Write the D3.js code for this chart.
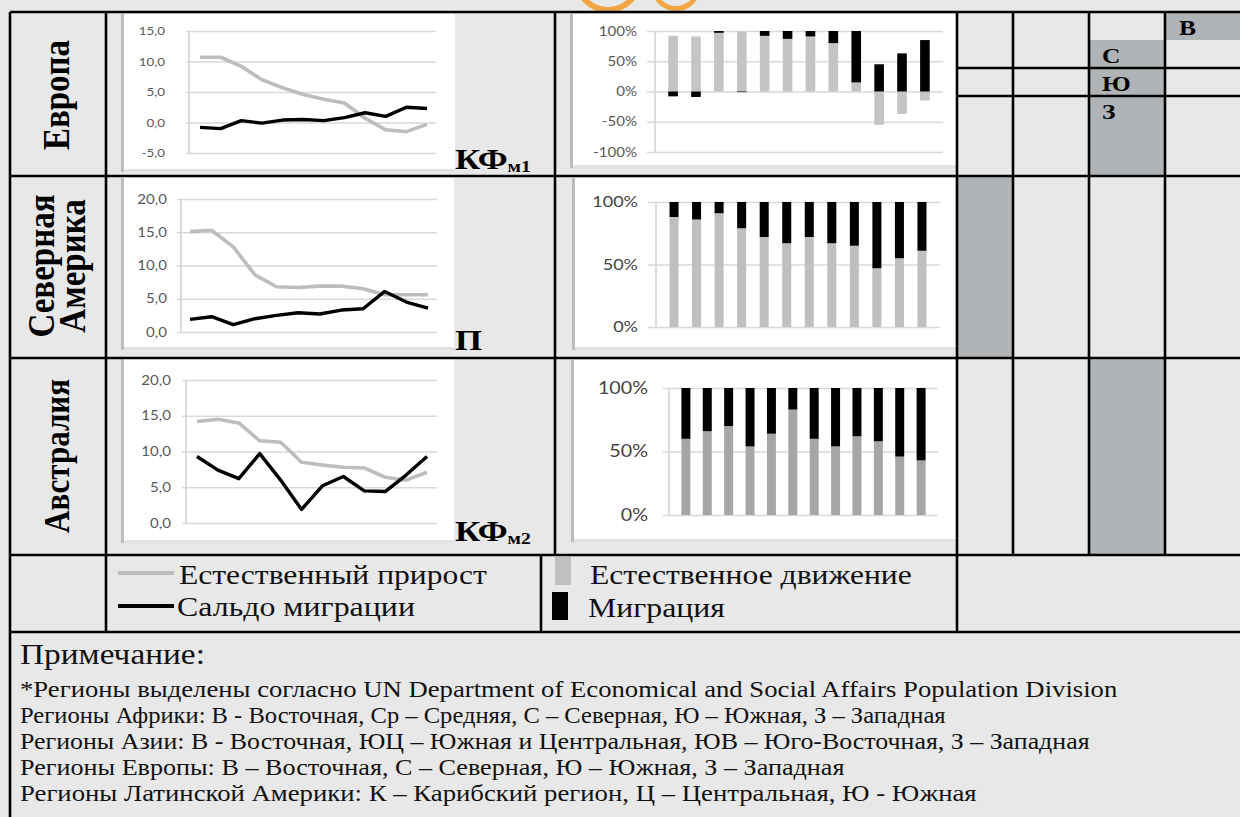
<!DOCTYPE html>
<html>
<head>
<meta charset="utf-8">
<script src="https://cdn.jsdelivr.net/npm/d3@7"></script>
<style>
html, body { margin: 0; padding: 0; background: #e8e8e8; }
svg { display: block; }
</style>
</head>
<body>
<svg id="chart" width="1240" height="817"></svg>
<script>
// five-year periods on the x axis of every small chart
var periods = ['1950-55', '1955-60', '1960-65', '1965-70', '1970-75', '1975-80',
               '1980-85', '1985-90', '1990-95', '1995-00', '2000-05', '2005-10'];

// natural increase / net migration, per 1000
var europeNatural   = [10.7, 10.7, 9.2, 7.0, 5.7, 4.6, 3.8, 3.2, 0.7, -1.2, -1.5, -0.3];
var europeMigration = [-0.8, -1.0, 0.3, -0.1, 0.4, 0.5, 0.3, 0.8, 1.6, 1.0, 2.5, 2.3];
var namNatural      = [15.1, 15.3, 12.8, 8.6, 6.8, 6.7, 6.9, 6.9, 6.5, 5.6, 5.6, 5.6];
var namMigration    = [1.9, 2.3, 1.1, 2.0, 2.5, 2.9, 2.7, 3.3, 3.5, 6.1, 4.5, 3.6];
var ausNatural      = [14.2, 14.5, 14.0, 11.5, 11.3, 8.5, 8.1, 7.8, 7.7, 6.4, 6.0, 7.1];
var ausMigration    = [9.3, 7.4, 6.2, 9.7, 6.0, 1.9, 5.2, 6.5, 4.5, 4.4, 6.7, 9.3];

// shares of growth, %
var europeNatShare = [92, 91, 97, 99, 92, 87, 91, 80, 15, -55, -37, -15];
var europeMigShare = [-8, -9, 3, -1, 8, 13, 9, 20, 85, 45, 63, 85];
var namNatShare    = [88, 86, 91, 79, 72, 67, 72, 67, 65, 47, 55, 61];
var namMigShare    = [12, 14, 9, 21, 28, 33, 28, 33, 35, 53, 45, 39];
var ausNatShare    = [60, 66, 70, 54, 64, 83, 60, 54, 62, 58, 46, 43];
var ausMigShare    = [40, 34, 30, 46, 36, 17, 40, 46, 38, 42, 54, 57];

// tick labels
var europeLineTicks = [-5, 0, 5, 10, 15];
var otherLineTicks  = [0, 5, 10, 15, 20];
var europeBarTicks  = [-100, -50, 0, 50, 100];
var otherBarTicks   = [0, 50, 100];

// texts
var regionNames = ['Европа', 'Северная|Америка', 'Австралия'];
var subRegions  = ['В', 'С', 'Ю', 'З'];
var lineLegend  = ['Естественный прирост', 'Сальдо миграции'];
var barLegend   = ['Естественное движение', 'Миграция'];
var notesTitle  = 'Примечание:';
var notes = [
    '*Регионы выделены согласно UN Department of Economical and Social Affairs Population Division',
    'Регионы Африки: В - Восточная, Ср – Средняя, С – Северная, Ю – Южная, З – Западная',
    'Регионы Азии: В - Восточная, ЮЦ – Южная и Центральная, ЮВ – Юго-Восточная, З – Западная',
    'Регионы Европы: В – Восточная, С – Северная, Ю – Южная, З – Западная',
    'Регионы Латинской Америки: К – Карибский регион, Ц – Центральная, Ю - Южная'
];

var serif = '"Liberation Serif", "DejaVu Serif", "Times New Roman", serif',
    sans = 'Lato, "Open Sans", sans-serif',
    cellGray = '#b1b4b6',
    lineGray = '#bdbdbd',
    sx = 1.16;   // the page is a little wider than tall

var svg = d3.select('#chart');

svg.append('rect')
    .attr('width', 1240).attr('height', 817)
    .attr('fill', '#e8e8e8');

// orange logo scrap at the very top
svg.append('circle')
    .attr('cx', 608).attr('cy', -21).attr('r', 31)
    .attr('fill', 'none').attr('stroke', '#f2a543').attr('stroke-width', 6);
svg.append('path')
    .attr('d', d3.arc()({innerRadius: 20, outerRadius: 25, startAngle: Math.PI * 0.45, endAngle: Math.PI * 1.45}))
    .attr('transform', 'translate(676,-14)')
    .attr('fill', '#f2a543');

// gray cells of the right-hand table
[[1165, 12, 75, 28], [1089, 40, 76, 136], [957, 176, 56, 182], [1089, 358, 76, 197]].forEach(function(c) {
    svg.append('rect')
        .attr('x', c[0]).attr('y', c[1]).attr('width', c[2]).attr('height', c[3])
        .attr('fill', cellGray);
});

function fmtComma(d) {
    return d3.format('.1f')(d).replace('.', ',').replace('−', '-');
}
function fmtPct(d) {
    return d + '%';
}

function chartBox(b) {
    svg.append('rect')
        .attr('x', b.x).attr('y', b.y).attr('width', b.w).attr('height', b.h)
        .attr('fill', '#fff');
    svg.append('rect')
        .attr('x', b.x).attr('y', b.y + b.h - 3).attr('width', b.w).attr('height', 3)
        .attr('fill', '#e2e2e2');
    svg.append('rect')
        .attr('x', b.x).attr('y', b.y).attr('width', 3).attr('height', b.h)
        .attr('fill', '#bcbcbc');
}

function gridAxis(cfg, y, ticks, fmt) {
    var pad = cfg.gridStart - cfg.labelRight;
    var g = svg.append('g')
        .attr('transform', 'translate(' + cfg.gridStart + ',0)')
        .call(d3.axisLeft(y)
            .tickValues(ticks)
            .tickSize(-(cfg.gridEnd - cfg.gridStart))
            .tickPadding(pad)
            .tickFormat(fmt));
    g.select('.domain').remove();
    g.selectAll('.tick line')
        .attr('stroke', '#d9d9d9').attr('stroke-width', 1.6);
    g.selectAll('.tick text')
        .attr('x', -pad / sx)
        .attr('transform', 'scale(' + sx + ',1)')
        .attr('fill', cfg.labelColor || '#595959')
        .style('font-family', sans)
        .style('font-size', cfg.fontSize + 'px');

    svg.append('line')
        .attr('x1', cfg.axisX).attr('x2', cfg.axisX)
        .attr('y1', y(ticks[ticks.length - 1])).attr('y2', y(ticks[0]))
        .attr('stroke', '#d0d0d0').attr('stroke-width', 1.5);
}

function lineChart(cfg) {
    chartBox(cfg.box);

    var x = d3.scaleLinear().domain([0, periods.length - 1]).range(cfg.xRange),
        y = d3.scaleLinear().domain(cfg.yDomain).range(cfg.yRange);

    gridAxis(cfg, y, cfg.ticks, fmtComma);

    var line = d3.line()
        .x(function(d, i) { return x(i); })
        .y(function(d) { return y(d); });

    svg.append('path')
        .datum(cfg.natural)
        .attr('d', line)
        .attr('fill', 'none').attr('stroke', lineGray)
        .attr('stroke-width', 3.6).attr('stroke-linejoin', 'round');

    svg.append('path')
        .datum(cfg.migration)
        .attr('d', line)
        .attr('fill', 'none').attr('stroke', '#000')
        .attr('stroke-width', 3.4).attr('stroke-linejoin', 'round');
}

function barChart(cfg) {
    chartBox(cfg.box);

    var x = d3.scaleBand().domain(periods).range([cfg.axisX, cfg.gridEnd]).padding(cfg.padding),
        y = d3.scaleLinear().domain(cfg.yDomain).range(cfg.yRange);

    gridAxis(cfg, y, cfg.ticks, fmtPct);

    var rows = periods.map(function(p, i) {
        return {period: p, nat: cfg.nat[i], mig: cfg.mig[i]};
    });
    var series = d3.stack()
        .keys(['nat', 'mig'])
        .offset(d3.stackOffsetDiverging)(rows);
    var colors = {nat: cfg.grayColor, mig: '#000'};

    svg.append('g')
        .selectAll('g')
        .data(series)
        .join('g')
        .attr('fill', function(s) { return colors[s.key]; })
        .selectAll('rect')
        .data(function(s) { return s; })
        .join('rect')
        .attr('x', function(d) { return x(d.data.period); })
        .attr('width', x.bandwidth())
        .attr('y', function(d) { return y(Math.max(d[0], d[1])); })
        .attr('height', function(d) { return Math.abs(y(d[0]) - y(d[1])); });
}

lineChart({
    box: {x: 121, y: 14, w: 334, h: 158},
    xRange: [200, 427], yDomain: [-5, 15], yRange: [153, 31],
    gridStart: 186, gridEnd: 436, axisX: 189, labelRight: 165, fontSize: 11.5,
    ticks: europeLineTicks, natural: europeNatural, migration: europeMigration
});
lineChart({
    box: {x: 121, y: 178, w: 333, h: 172},
    xRange: [190, 428], yDomain: [0, 20], yRange: [332, 199],
    gridStart: 177, gridEnd: 437, axisX: 181, labelRight: 167, fontSize: 13,
    ticks: otherLineTicks, natural: namNatural, migration: namMigration
});
lineChart({
    box: {x: 121, y: 359, w: 333, h: 184},
    xRange: [197, 427], yDomain: [0, 20], yRange: [523, 380],
    gridStart: 182, gridEnd: 437, axisX: 186, labelRight: 171, fontSize: 13,
    ticks: otherLineTicks, natural: ausNatural, migration: ausMigration
});

barChart({
    box: {x: 570, y: 14, w: 387, h: 154},
    yDomain: [-100, 100], yRange: [152, 31],
    gridStart: 647, gridEnd: 943, axisX: 655, labelRight: 637, fontSize: 13,
    padding: 0.58, grayColor: '#c4c4c4',
    ticks: europeBarTicks, nat: europeNatShare, mig: europeMigShare
});
barChart({
    box: {x: 572, y: 178, w: 385, h: 172},
    yDomain: [0, 100], yRange: [327, 202],
    gridStart: 648, gridEnd: 940, axisX: 656, labelRight: 638, fontSize: 15.5, labelColor: '#444',
    padding: 0.6, grayColor: '#bfbfbf',
    ticks: otherBarTicks, nat: namNatShare, mig: namMigShare
});
barChart({
    box: {x: 571, y: 360, w: 386, h: 182},
    yDomain: [0, 100], yRange: [515, 388],
    gridStart: 663, gridEnd: 938, axisX: 669, labelRight: 648, fontSize: 17, labelColor: '#444',
    padding: 0.58, grayColor: '#a6a6a6',
    ticks: otherBarTicks, nat: ausNatShare, mig: ausMigShare
});

// table rules
var hLines = [[10, 1240, 12], [10, 1240, 176], [10, 1240, 358], [10, 1240, 555], [10, 1240, 632],
              [957, 1240, 68], [957, 1240, 96]];
var vLines = [[10, 12, 817], [106, 12, 632], [555, 12, 555], [541, 555, 632], [957, 12, 632],
              [1013, 12, 555], [1089, 12, 555], [1165, 12, 555]];
hLines.forEach(function(l) {
    svg.append('line').attr('x1', l[0]).attr('x2', l[1]).attr('y1', l[2]).attr('y2', l[2])
        .attr('stroke', '#000').attr('stroke-width', 2.6);
});
vLines.forEach(function(l) {
    svg.append('line').attr('x1', l[0]).attr('x2', l[0]).attr('y1', l[1]).attr('y2', l[2])
        .attr('stroke', '#000').attr('stroke-width', 2.6);
});

// region names, rotated
var regionPos = [[56, 95], [56, 266], [56, 456]],
    regionSize = [33, 33, 31];
regionNames.forEach(function(name, i) {
    var parts = name.split('|'),
        t = svg.append('text')
            .attr('transform', 'translate(' + regionPos[i][0] + ',' + regionPos[i][1] + ') scale(' + sx + ',1) rotate(-90)')
            .attr('text-anchor', 'middle')
            .style('font-family', serif).style('font-weight', 'bold').style('font-size', regionSize[i] + 'px');
    parts.forEach(function(p, j) {
        t.append('tspan')
            .attr('x', 0)
            .attr('y', (j - (parts.length - 1) / 2) * 27)
            .attr('dy', '0.35em')
            .text(p);
    });
});

// sub-region letters
var letterPos = [[1179, 35], [1102, 63], [1102, 91], [1102, 119]];
subRegions.forEach(function(s, i) {
    svg.append('text')
        .attr('transform', 'translate(' + letterPos[i][0] + ',' + letterPos[i][1] + ') scale(' + sx + ',1)')
        .style('font-family', serif).style('font-weight', 'bold').style('font-size', '22px')
        .text(s);
});

// chart marks КФм1 / П / КФм2
function mark(x, y, main, sub) {
    var t = svg.append('text')
        .attr('transform', 'translate(' + x + ',' + y + ') scale(' + sx + ',1)')
        .style('font-family', serif).style('font-weight', 'bold').style('font-size', '30px')
        .text(main);
    if (sub) {
        t.append('tspan').attr('dy', 3).style('font-size', '17px').text(sub);
    }
}
mark(455, 169, 'КФ', 'м1');
mark(455, 350, 'П');
mark(455, 541, 'КФ', 'м2');

// legends
svg.append('line').attr('x1', 118).attr('x2', 174).attr('y1', 573).attr('y2', 573)
    .attr('stroke', lineGray).attr('stroke-width', 4);
svg.append('line').attr('x1', 118).attr('x2', 174).attr('y1', 606).attr('y2', 606)
    .attr('stroke', '#000').attr('stroke-width', 4);
svg.append('rect').attr('x', 555).attr('y', 557).attr('width', 16).attr('height', 28).attr('fill', '#c0c0c0');
svg.append('rect').attr('x', 552).attr('y', 592).attr('width', 16).attr('height', 28).attr('fill', '#000');

// text squeezed or stretched horizontally so it ends where the original does
function fitText(x, y, str, size, right) {
    var t = svg.append('text')
        .attr('fill', '#111')
        .style('font-family', serif).style('font-size', size + 'px')
        .text(str);
    var w = t.node().getComputedTextLength() || 1;
    t.attr('transform', 'translate(' + x + ',' + y + ') scale(' + ((right - x) / w) + ',1)');
}

fitText(179, 584, lineLegend[0], 27, 487);
fitText(177, 616, lineLegend[1], 27, 415);
fitText(590, 584, barLegend[0], 27, 912);
fitText(588, 617, barLegend[1], 27, 725);

// notes
var noteEnds = [1118, 946, 1090, 845, 977];
fitText(20, 664, notesTitle, 28.5, 205);
notes.forEach(function(n, i) {
    fitText(20, 697 + i * 26, n, 23, noteEnds[i]);
});
</script>
</body>
</html>
